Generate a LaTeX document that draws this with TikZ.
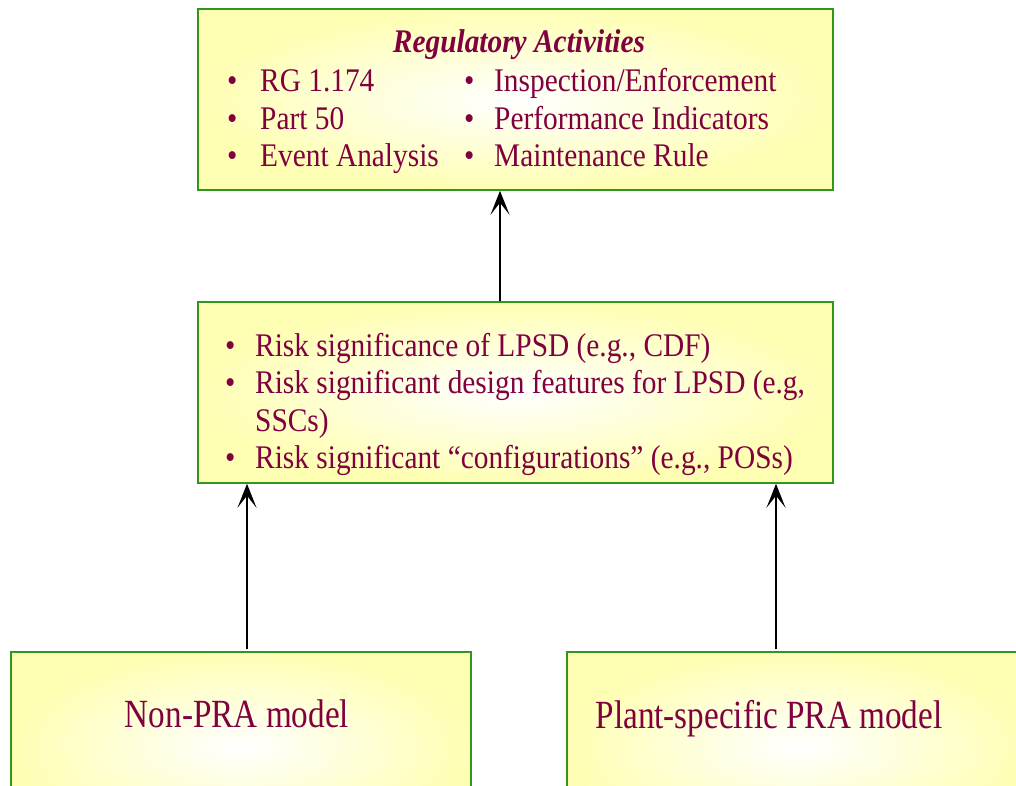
\documentclass[tikz,border=0pt]{standalone}
\usepackage{fontspec}
\setmainfont{Liberation Serif}
\newfontfamily\bodyfont[FakeStretch=0.89]{Liberation Serif}
\newfontfamily\bigfont[FakeStretch=0.83]{Liberation Serif}
\usetikzlibrary{arrows.meta}
\definecolor{txt}{RGB}{128,0,64}
\definecolor{boxgreen}{RGB}{50,150,30}
\definecolor{boxyel}{RGB}{255,255,180}
\tikzset{
  box/.style={draw=boxgreen, line width=1.5pt, inner color=white, outer color=boxyel, inner sep=0pt},
  txtA/.style={anchor=base west, inner sep=0pt, text=txt, font=\bodyfont\fontsize{33}{38}\selectfont},
  ttl/.style={anchor=base, inner sep=0pt, text=txt, font=\bodyfont\fontsize{33}{38}\selectfont\bfseries\itshape},
  txtB/.style={anchor=base, inner sep=0pt, text=txt, font=\bigfont\fontsize{40}{46}\selectfont},
  arr/.style={line width=2.3pt, -{Stealth[length=24pt,width=19pt,inset=12pt]}}
}
\begin{document}
\begin{tikzpicture}[x=1pt,y=-1pt]
\useasboundingbox[fill=white] (0,0) rectangle (1016,786);
% boxes
\node[box, minimum width=635pt, minimum height=181pt] (top) at (515.5,99.5) {};
\node[box, minimum width=635pt, minimum height=181pt] (mid) at (515.5,392.5) {};
\node[box, minimum width=460pt, minimum height=190pt] (bl) at (241,747) {};
\node[box, minimum width=463pt, minimum height=190pt] (br) at (798.5,747) {};
% top box text
\node[ttl] (title) at (519,53) {Regulatory Activities};
\node[txtA] (b1) at (227,92) {•};
\node[txtA] (t1) at (260,92) {RG 1.174};
\node[txtA] (b2) at (227,129.5) {•};
\node[txtA] (t2) at (260,129.5) {Part 50};
\node[txtA] (b3) at (227,167) {•};
\node[txtA] (t3) at (260,167) {Event Analysis};
\node[txtA] (b4) at (464,92) {•};
\node[txtA] (t4) at (494,92) {Inspection/Enforcement};
\node[txtA] (b5) at (464,129.5) {•};
\node[txtA] (t5) at (494,129.5) {Performance Indicators};
\node[txtA] (b6) at (464,167) {•};
\node[txtA] (t6) at (494,167) {Maintenance Rule};
% middle box text
\node[txtA] (m1b) at (225,356) {•};
\node[txtA] (m1) at (255,356) {Risk significance of LPSD (e.g., CDF)};
\node[txtA] (m2b) at (225,393.5) {•};
\node[txtA] (m2) at (255,393.5) {Risk significant design features for LPSD (e.g,};
\node[txtA] (m3) at (255,431) {SSCs)};
\node[txtA] (m4b) at (225,468.5) {•};
\node[txtA] (m4) at (255,468.5) {Risk significant “configurations” (e.g., POSs)};
% bottom texts
\node[txtB] (nonpra) at (237,727) {Non-PRA model};
\node[txtB] (plant) at (769,728) {Plant-specific PRA model};
% arrows
\coordinate (a1) at ([xshift=-15.5pt]mid.north);
\draw[arr] (a1) -- (a1 |- top.south);
\coordinate (a2) at ([xshift=6pt,yshift=2pt]bl.north);
\draw[arr] (a2) -- (a2 |- mid.south);
\coordinate (a3) at ([xshift=-22.5pt,yshift=2pt]br.north);
\draw[arr] (a3) -- (a3 |- mid.south);
\end{tikzpicture}
\end{document}
